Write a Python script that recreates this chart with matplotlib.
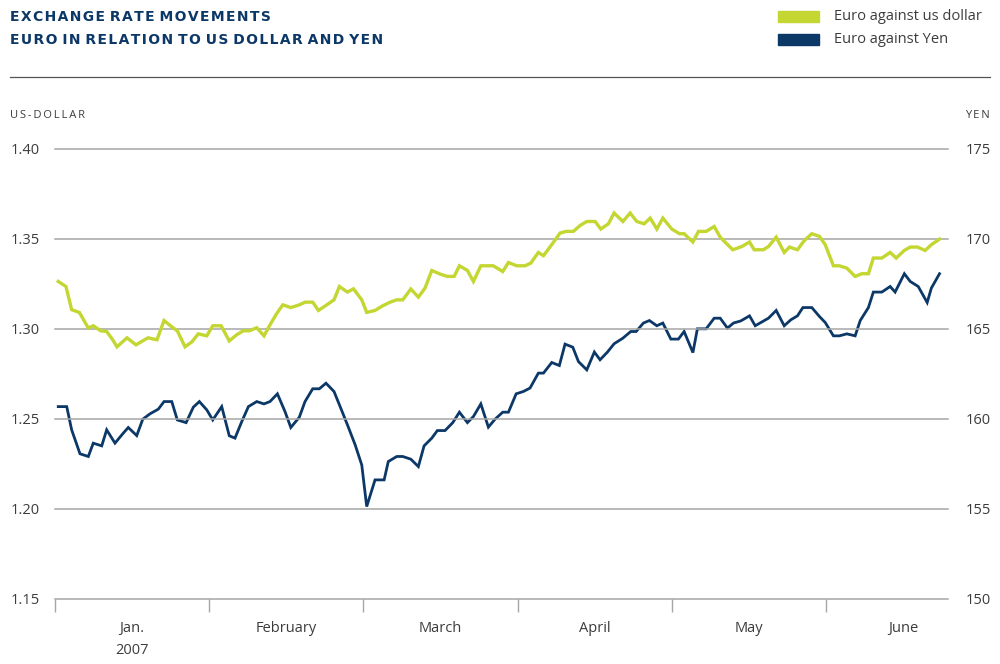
import matplotlib
matplotlib.use("Agg")
import matplotlib.pyplot as plt

# x positions are in months since 1 Jan 2007 (0 = Jan, 5 = June)
usd_x = [0.021, 0.071, 0.108, 0.158, 0.216, 0.248, 0.296, 0.335, 0.374, 0.402,
         0.467, 0.525, 0.603, 0.661, 0.707, 0.763, 0.793, 0.843, 0.888, 0.929,
         0.984, 1.023, 1.077, 1.130, 1.178, 1.221, 1.260, 1.308, 1.355, 1.394,
         1.436, 1.477, 1.529, 1.584, 1.621, 1.671, 1.708, 1.762, 1.809, 1.844,
         1.896, 1.935, 1.989, 2.021, 2.075, 2.125, 2.173, 2.216, 2.255, 2.307,
         2.356, 2.399, 2.443, 2.497, 2.544, 2.588, 2.622, 2.674, 2.713, 2.761,
         2.802, 2.842, 2.903, 2.940, 2.994, 3.048, 3.085, 3.134, 3.167, 3.221,
         3.275, 3.314, 3.361, 3.405, 3.448, 3.502, 3.539, 3.588, 3.625, 3.682,
         3.729, 3.772, 3.820, 3.859, 3.902, 3.941, 3.999, 4.049, 4.079, 4.136,
         4.172, 4.222, 4.274, 4.313, 4.352, 4.395, 4.453, 4.503, 4.533, 4.593,
         4.626, 4.676, 4.728, 4.762, 4.814, 4.857, 4.907, 4.957, 4.994, 5.047,
         5.086, 5.134, 5.188, 5.231, 5.274, 5.306, 5.361, 5.415, 5.454, 5.506,
         5.545, 5.592, 5.642, 5.682, 5.735]
usd = [1.3263, 1.3235, 1.3106, 1.3091, 1.3004, 1.3017, 1.2989, 1.2985, 1.2939, 1.2900,
       1.2950, 1.2911, 1.2950, 1.2939, 1.3046, 1.3007, 1.2989, 1.2900, 1.2928, 1.2972,
       1.2961, 1.3017, 1.3017, 1.2933, 1.2967, 1.2989, 1.2989, 1.3006, 1.2961, 1.3022,
       1.3083, 1.3133, 1.3118, 1.3133, 1.3148, 1.3148, 1.3102, 1.3133, 1.3161, 1.3235,
       1.3204, 1.3222, 1.3161, 1.3091, 1.3102, 1.3128, 1.3148, 1.3161, 1.3161, 1.3221,
       1.3176, 1.3226, 1.3324, 1.3304, 1.3291, 1.3291, 1.3350, 1.3324, 1.3263, 1.3350,
       1.3350, 1.3350, 1.3318, 1.3368, 1.3350, 1.3350, 1.3365, 1.3424, 1.3406, 1.3468,
       1.3532, 1.3541, 1.3541, 1.3574, 1.3596, 1.3596, 1.3554, 1.3583, 1.3643, 1.3596,
       1.3643, 1.3596, 1.3583, 1.3615, 1.3554, 1.3615, 1.3554, 1.3528, 1.3528, 1.3482,
       1.3541, 1.3541, 1.3568, 1.3509, 1.3475, 1.3439, 1.3457, 1.3482, 1.3439, 1.3439,
       1.3457, 1.3509, 1.3424, 1.3454, 1.3439, 1.3489, 1.3528, 1.3513, 1.3467, 1.3350,
       1.3350, 1.3337, 1.3291, 1.3306, 1.3306, 1.3393, 1.3393, 1.3424, 1.3393, 1.3435,
       1.3454, 1.3454, 1.3435, 1.3467, 1.3498]

yen_x = [0.021, 0.076, 0.108, 0.162, 0.216, 0.248, 0.303, 0.335, 0.389, 0.439,
         0.475, 0.530, 0.569, 0.616, 0.670, 0.707, 0.757, 0.793, 0.850, 0.897,
         0.936, 0.984, 1.023, 1.081, 1.130, 1.167, 1.211, 1.254, 1.308, 1.355,
         1.394, 1.442, 1.491, 1.529, 1.584, 1.621, 1.671, 1.714, 1.757, 1.809,
         1.853, 1.896, 1.946, 1.989, 2.021, 2.075, 2.134, 2.161, 2.216, 2.255,
         2.307, 2.356, 2.393, 2.443, 2.479, 2.529, 2.579, 2.622, 2.674, 2.713,
         2.761, 2.810, 2.853, 2.903, 2.940, 2.990, 3.037, 3.080, 3.134, 3.167,
         3.221, 3.270, 3.307, 3.357, 3.394, 3.448, 3.497, 3.534, 3.582, 3.625,
         3.682, 3.733, 3.768, 3.815, 3.854, 3.902, 3.941, 3.993, 4.042, 4.079,
         4.136, 4.165, 4.222, 4.274, 4.313, 4.360, 4.399, 4.447, 4.503, 4.540,
         4.589, 4.626, 4.676, 4.728, 4.771, 4.814, 4.849, 4.907, 4.957, 4.994,
         5.047, 5.086, 5.134, 5.188, 5.221, 5.274, 5.306, 5.361, 5.415, 5.447,
         5.507, 5.545, 5.597, 5.655, 5.682, 5.735]
yen = [160.68, 160.68, 159.39, 158.06, 157.91, 158.65, 158.50, 159.39, 158.65, 159.17,
       159.52, 159.07, 159.98, 160.28, 160.54, 160.96, 160.96, 159.94, 159.79, 160.65,
       160.96, 160.50, 159.94, 160.68, 159.06, 158.93, 159.85, 160.68, 160.96, 160.83,
       160.96, 161.39, 160.41, 159.52, 160.09, 160.96, 161.67, 161.67, 161.98, 161.52,
       160.59, 159.67, 158.56, 157.44, 155.13, 156.61, 156.61, 157.63, 157.91, 157.91,
       157.76, 157.35, 158.50, 158.93, 159.35, 159.35, 159.79, 160.37, 159.79, 160.13,
       160.83, 159.54, 159.98, 160.37, 160.37, 161.39, 161.52, 161.71, 162.54, 162.54,
       163.13, 162.96, 164.15, 163.98, 163.18, 162.72, 163.71, 163.28, 163.71, 164.17,
       164.48, 164.85, 164.85, 165.32, 165.46, 165.17, 165.32, 164.43, 164.43, 164.85,
       163.68, 165.00, 165.00, 165.59, 165.59, 165.04, 165.32, 165.44, 165.72, 165.17,
       165.41, 165.59, 166.02, 165.17, 165.50, 165.72, 166.18, 166.18, 165.68, 165.35,
       164.61, 164.61, 164.72, 164.61, 165.46, 166.18, 167.04, 167.04, 167.35, 167.04,
       168.06, 167.63, 167.35, 166.46, 167.26, 168.06]

months = ['Jan.\n2007', 'February', 'March', 'April', 'May', 'June']
usd_ticks = [1.15, 1.20, 1.25, 1.30, 1.35, 1.40]
yen_ticks = [150, 155, 160, 165, 170, 175]

GREEN = '#c3d631'
NAVY = '#0c3868'
GRID = '#a6a6a6'
TEXT = '#3c3c3c'

plt.rcParams['font.family'] = ['Open Sans', 'DejaVu Sans']


def spaced(s, gap='\u200a'):
    # fake letter spacing with hair spaces
    return gap.join(s).replace(gap + ' ' + gap, ' ')


fig = plt.figure(figsize=(10, 6.64), dpi=100)
ax = fig.add_axes([0.055, 0.098, 0.893, 0.678])
ax2 = ax.twinx()

ax.set_xlim(0, 5.79)
ax.set_ylim(1.15, 1.40)
ax2.set_ylim(150, 175)

for v in usd_ticks:
    ax.axhline(v, color=GRID, lw=1.1, clip_on=False, zorder=0)

ax2.plot(yen_x, yen, color=NAVY, lw=2.0, solid_joinstyle='miter')
ax.plot(usd_x, usd, color=GREEN, lw=2.4, solid_joinstyle='miter', zorder=3)
ax.set_zorder(ax2.get_zorder() + 1)
ax.patch.set_visible(False)

for a in (ax, ax2):
    for s in a.spines.values():
        s.set_visible(False)

ax.set_yticks(usd_ticks)
ax.set_yticklabels([f'{v:.2f}' for v in usd_ticks])
ax.tick_params(axis='y', length=0, pad=11, labelsize=10.5, labelcolor=TEXT)
ax2.set_yticks(yen_ticks)
ax2.tick_params(axis='y', length=0, pad=13, labelsize=10.5, labelcolor=TEXT)

# month boundary ticks and centred month names
ax.set_xticks(range(6))
ax.set_xticklabels([])
ax.tick_params(axis='x', which='major', length=9, width=1, color=GRID)
ax.set_xticks([m + 0.5 for m in range(6)], minor=True)
ax.set_xticklabels(months, minor=True, fontsize=10.5, color=TEXT, va='top', linespacing=1.6)
ax.tick_params(axis='x', which='minor', length=0, pad=16)

# header
fig.text(0.010, 0.975, spaced('EXCHANGE RATE MOVEMENTS'),
         fontsize=10, fontweight='bold', color=NAVY, va='center', family='DejaVu Sans')
fig.text(0.010, 0.940, spaced('EURO IN RELATION TO US DOLLAR AND YEN'),
         fontsize=10, fontweight='bold', color=NAVY, va='center', family='DejaVu Sans')
fig.add_artist(plt.Line2D([0.010, 0.990], [0.884, 0.884], color='#555555', lw=0.9))

fig.patches.append(plt.Rectangle((0.778, 0.967), 0.041, 0.017, color=GREEN, transform=fig.transFigure))
fig.patches.append(plt.Rectangle((0.778, 0.932), 0.041, 0.017, color=NAVY, transform=fig.transFigure))
fig.text(0.834, 0.975, 'Euro against us dollar', fontsize=10.5, color=TEXT, va='center')
fig.text(0.834, 0.940, 'Euro against Yen', fontsize=10.5, color=TEXT, va='center')

fig.text(0.010, 0.826, spaced('US-DOLLAR', '\u2009'), fontsize=8, color=TEXT, va='center')
fig.text(0.990, 0.826, spaced('YEN', '\u2009'), fontsize=8, color=TEXT, va='center', ha='right')

fig.savefig('out.png', dpi=100)
